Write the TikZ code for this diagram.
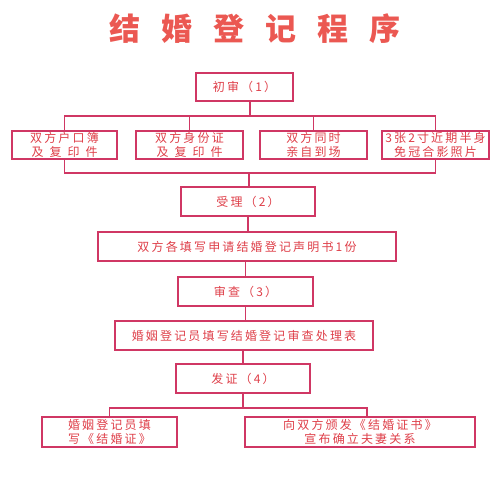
\documentclass[tikz,border=0pt]{standalone}
\usepackage{fontspec}
\newfontfamily\cjk{Noto Sans CJK SC}
\usetikzlibrary{positioning}
\definecolor{boxc}{RGB}{208,55,100}
\definecolor{txtc}{RGB}{222,62,72}
\definecolor{titc}{RGB}{235,88,82}
\tikzset{
  box/.style={draw=boxc, line width=1.3pt, rectangle, inner sep=0pt,
    minimum height=29pt, text=txtc, align=center,
    font=\cjk\fontsize{12}{14}\selectfont\addfontfeature{LetterSpace=18}},
  conn/.style={draw=boxc, line width=1.3pt}
}
\begin{document}
\begin{tikzpicture}[x=1pt,y=-1pt]
\useasboundingbox (0,0) rectangle (500,489);
\node[text=titc, font=\cjk\bfseries\fontsize{31}{31}\selectfont] (title) at (255,29)
  {结\hspace{21pt}婚\hspace{21pt}登\hspace{21pt}记\hspace{21pt}程\hspace{21pt}序};

\node[box, minimum width=97pt, minimum height=28pt] (chu) at (244.5,87) {初审（1）};
\node[box, minimum width=105pt, minimum height=28pt] (b1) at (64.5,145)
  {双方户口簿\\及\hspace{6pt}复\hspace{6pt}印\hspace{6pt}件};
\node[box, minimum width=107pt, minimum height=28pt] (b2) at (189.5,145)
  {双方身份证\\及\hspace{6pt}复\hspace{6pt}印\hspace{6pt}件};
\node[box, minimum width=107pt, minimum height=28pt] (b3) at (313.5,145)
  {双方同时\\亲自到场};
\node[box, minimum width=107pt, minimum height=28pt] (b4) at (435.5,145)
  {3张2寸近期半身\\免冠合影照片};

\node[box, minimum width=134pt] (sl) at (248,201.5) {受理（2）};
\node[box, minimum width=298pt] (sm) at (247,246.5) {双方各填写申请结婚登记声明书1份};
\node[box, minimum width=135pt] (sc) at (245.5,291.5) {审查（3）};
\node[box, minimum width=258pt] (cl) at (244,335.5) {婚姻登记员填写结婚登记审查处理表};
\node[box, minimum width=134pt] (fz) at (243,378.5) {发证（4）};
\node[box, minimum width=135pt, minimum height=30pt, align=left] (bl) at (109.5,432)
  {婚姻登记员填\\写《结婚证》};
\node[box, minimum width=230pt, minimum height=30pt] (br) at (360,432)
  {向双方颁发《结婚证书》\\宣布确立夫妻关系};

\coordinate (top) at (250,116);
\coordinate (bot) at (249,173);
\coordinate (bj) at (243,408);
\coordinate (brj) at (367,408);

\draw[conn] (chu.south -| top) -- (top);
\draw[conn] (b1.north) |- (top) -| (b4.north);
\draw[conn] (b2.north) -- (b2.north |- top);
\draw[conn] (b3.north) -- (b3.north |- top);
\draw[conn] (b1.south) |- (bot) -| (b4.south);
\draw[conn] (bot) -- (bot |- sl.north);
\draw[conn] (sl.south) -- (sl.south |- sm.north);
\draw[conn] (sm.south -| sc) -- (sc.north);
\draw[conn] (sc.south) -- (sc.south |- cl.north);
\draw[conn] (cl.south -| fz) -- (fz.north);
\draw[conn] (fz.south) -- (bj);
\draw[conn] (bl.north) |- (brj) -- (brj |- br.north);
\end{tikzpicture}
\end{document}
